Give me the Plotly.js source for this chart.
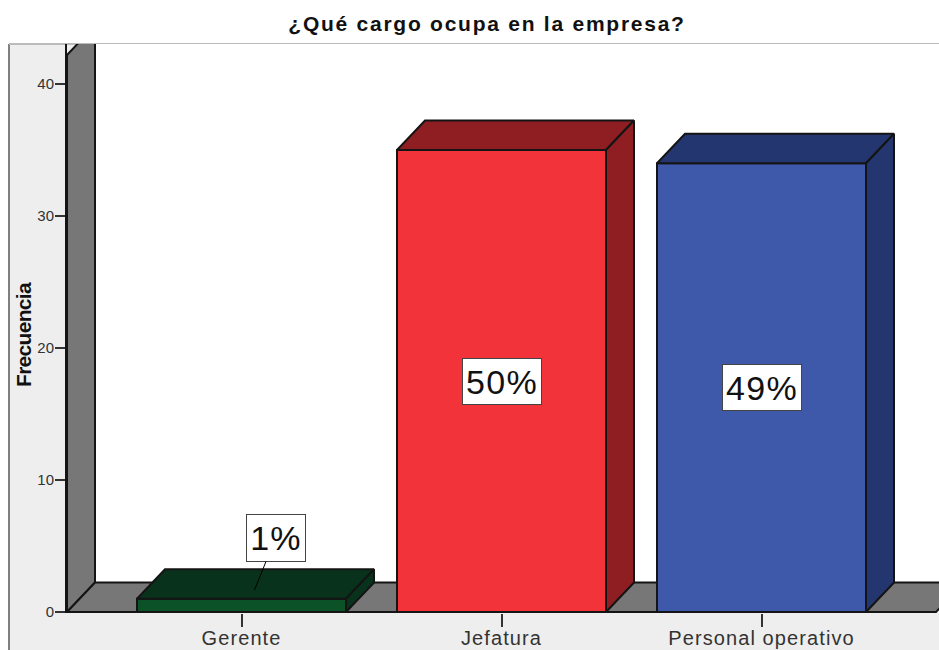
<!DOCTYPE html>
<html><head><meta charset="utf-8">
<script src="https://cdn.plot.ly/plotly-3.0.1.min.js"></script>
<style>html,body{margin:0;padding:0;background:#fff}
.gtitle{letter-spacing:1.75px}
.xtick text{letter-spacing:1.1px}
.annotation-text-g text{letter-spacing:1.3px}
.annotation[data-index="3"] text{letter-spacing:-0.7px}
</style></head>
<body><div id="chart" style="width:939px;height:650px"></div>
<script>
const categories = ["Gerente", "Jefatura", "Personal operativo"];
const positions = [0, 1, 2];
const frecuencia = [1, 35, 34];
const percentLabels = ["1%", "50%", "49%"];
const yTicks = [0, 10, 20, 30, 40];
const frontColors = ["#0b5229", "#f3333a", "#3e58aa"];
const darkColors = ["#09321c", "#8e1e22", "#24366f"];

// Layout geometry of the fake 3D scene, in pixels
const W = 939, H = 650, L = 67, T = 44, B = 613;
const pxPerCat = 260, pxPerUnit = 13.2, cat0px = 241.5;
const xMin = (L - cat0px) / pxPerCat, xMax = (W - cat0px) / pxPerCat;
const yMin = (612 - B) / pxPerUnit, yMax = (612 - T) / pxPerUnit;
const dx = 28 / pxPerCat, dy = 29.5 / pxPerUnit;   // depth of the scene
const barW = 209 / pxPerCat;
const wallTop = 42.2, floorEnd = (936 - cat0px) / pxPerCat;
const px = v => (v - L) / (W - L), py = v => (B - v) / (B - T);
const EDGE = '#141414';

function poly(xs, ys, fill, lw) {
  return {x: xs, y: ys, type: 'scatter', mode: 'lines', fill: 'toself', fillcolor: fill,
    line: {color: EDGE, width: lw === undefined ? 2 : lw}, hoverinfo: 'skip', showlegend: false};
}
function pathShape(xs, ys, fill) {
  const d = xs.map((x, i) => (i ? 'L' : 'M') + x + ',' + ys[i]).join(' ') + ' Z';
  return {type: 'path', layer: 'below', xref: 'x', yref: 'y', path: d, fillcolor: fill, line: {color: EDGE, width: 2}};
}

const traces = [];
traces.push({type: 'bar', x: positions, y: frecuencia, width: barW,
  marker: {color: frontColors, line: {color: EDGE, width: 2}}, hoverinfo: 'skip', showlegend: false});
positions.forEach((p, i) => {
  const a = p - barW / 2, b = p + barW / 2, v = frecuencia[i];
  traces.push(poly([a, b, b + dx, a + dx, a], [v, v, v + dy, v + dy, v], darkColors[i]));
  traces.push(poly([b, b + dx, b + dx, b, b], [0, dy, v + dy, v, 0], darkColors[i]));
});

const box = {showarrow: false, bgcolor: '#ffffff', bordercolor: '#444444', borderwidth: 1,
  font: {family: 'Liberation Sans', size: 34, color: '#111111'}, xref: 'x', yref: 'y'};
const annotations = [
  Object.assign({}, box, {text: percentLabels[0], x: positions[0] + 13 / pxPerCat, y: 22 / pxPerUnit,
    showarrow: true, arrowhead: 0, arrowwidth: 1, arrowcolor: '#000000', ax: 21, ay: -52, width: 56, height: 44}),
  Object.assign({}, box, {text: percentLabels[1], x: positions[1], y: frecuencia[1] / 2, width: 76, height: 43}),
  Object.assign({}, box, {text: percentLabels[2], x: positions[2], y: frecuencia[2] / 2, width: 76, height: 43}),
  {text: 'Frecuencia', textangle: -90, showarrow: false, xref: 'paper', yref: 'paper', xanchor: 'center', yanchor: 'middle',
    x: px(22.5), y: py(335), font: {family: 'Liberation Sans', size: 21, weight: 700, color: '#111111'}}
];

const shapes = [
  {type: 'rect', layer: 'below', xref: 'paper', yref: 'paper', x0: px(9), x1: px(W + 5), y0: py(H + 5), y1: py(44),
    fillcolor: '#eeeeee', line: {width: 0}},
  {type: 'line', layer: 'below', xref: 'paper', yref: 'paper', x0: px(9), x1: px(9), y0: py(H), y1: py(44),
    line: {color: '#808080', width: 2}},
  {type: 'line', layer: 'below', xref: 'paper', yref: 'paper', x0: px(9), x1: px(W), y0: py(44), y1: py(44),
    line: {color: '#bbbbbb', width: 2}},
  {type: 'rect', layer: 'below', xref: 'x', yref: 'y', x0: xMin + dx, x1: xMax, y0: dy, y1: yMax,
    fillcolor: '#ffffff', line: {width: 0}},
  pathShape([xMin, xMin + dx, xMin + dx, xMin], [0, dy, wallTop + dy, wallTop], '#777777'),
  pathShape([xMin, floorEnd, floorEnd + dx, xMin + dx], [0, 0, dy, dy], '#777777')
];

const layout = {
  width: W, height: H, paper_bgcolor: '#ffffff', plot_bgcolor: '#ffffff', showlegend: false,
  margin: {l: L, r: 0, t: T, b: H - B, pad: 0},
  title: {text: '¿Qué cargo ocupa en la empresa?', x: 487 / W, xanchor: 'center', y: 1 - 24 / H, yanchor: 'middle',
    xref: 'container', yref: 'container', font: {family: 'Liberation Sans', size: 21, weight: 700, color: '#111111'}},
  xaxis: {range: [xMin, xMax], tickmode: 'array', tickvals: positions, ticktext: categories, showgrid: false, zeroline: false,
    ticks: 'outside', ticklen: 13, tickwidth: 2, tickcolor: '#333333', showline: false, ticklabelstandoff: -6,
    tickfont: {family: 'Liberation Sans', size: 20, color: '#333333'}},
  yaxis: {range: [yMin, yMax], tickmode: 'array', tickvals: yTicks, showgrid: false, zeroline: false,
    ticks: 'outside', ticklen: 10, tickwidth: 1.5, tickcolor: '#333333', showline: true, linecolor: EDGE, linewidth: 2,
    ticklabelstandoff: -2, tickfont: {family: 'Liberation Sans', size: 15, color: '#333333'}},
  shapes, annotations
};
Plotly.newPlot('chart', traces, layout, {displayModeBar: false, staticPlot: true});
</script></body></html>
